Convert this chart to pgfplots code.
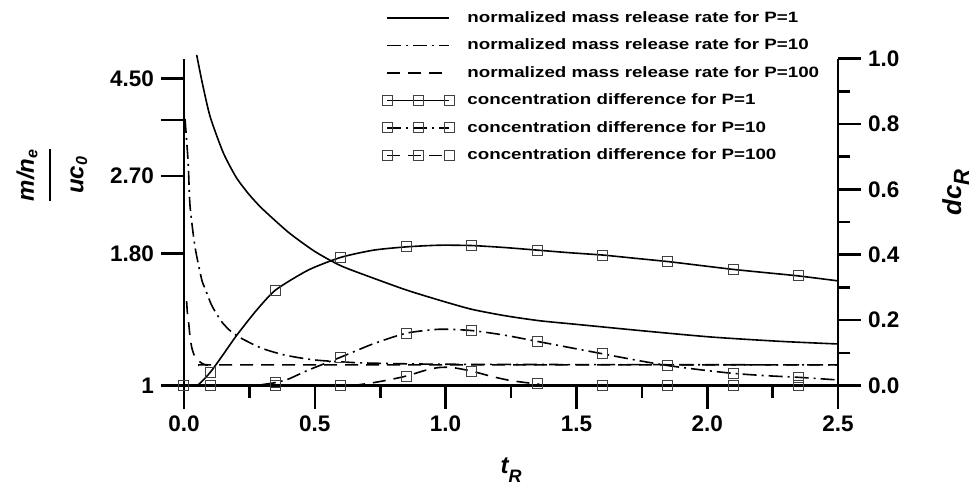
\documentclass[border=0pt]{standalone}
\usepackage{pgfplots}
\pgfplotsset{compat=1.18}
\usepackage{fontspec}
\setmainfont{Liberation Sans}
\newfontfamily\legfont{Liberation Sans Bold}[FakeStretch=1.25]
\setlength{\arrayrulewidth}{0.85pt}
\begin{document}
\begin{tikzpicture}
\useasboundingbox (-92pt,204.2pt) rectangle (395pt,-39.3pt);
\pgfplotsset{
 common/.style={x=130.8pt, y=163.5pt, xmin=0, xmax=2.5, clip=false,
  tick label style={font=\fontsize{11.25}{13}\selectfont\bfseries},
  label style={font=\fontsize{12}{14}\selectfont\bfseries},
  major tick length=11.5pt, minor tick length=6.2pt, tick align=outside,
  every tick/.style={black, line width=1.3pt},
  axis line style={line width=1.4pt},
 },
 lineimg/.style={legend image code/.code={\path[draw=none,fill=none] (-2.5pt,-7pt) rectangle (33.5pt,2.5pt); \draw[##1] (0pt,0pt) -- (31pt,0pt);}},
 markimg/.style={legend image code/.code={\path[draw=none,fill=none] (-2.5pt,-7pt) rectangle (33.5pt,2.5pt); \draw[##1] plot coordinates {(0pt,0pt) (15.5pt,0pt) (31pt,0pt)};}},
 sA/.style={black, line width=0.8pt, solid},
 sB/.style={black, line width=0.8pt, dash pattern=on 7pt off 2.5pt on 1pt off 2.5pt},
 sC/.style={black, line width=0.8pt, dash pattern=on 6.5pt off 4pt},
 mk/.style={mark=square, mark size=2.5pt, mark options={solid, draw=black!75, line width=0.5pt}},
}
% left axis
\begin{axis}[common, ymin=-0.07, ymax=1, axis y line*=left, axis x line=none,
  ytick pos=left, yticklabel pos=left,
  ytick={0,0.404,0.641,0.812,0.939}, yticklabels={1,1.80,2.70,{},4.50},
  ylabel={\itshape\begin{tabular}{@{}c@{}}m/n\textsubscript{e}\\[3.5pt]\hline\rule{0pt}{16.3pt}uc\textsubscript{0}\end{tabular}},
  ylabel style={at={(axis description cs:-0.2003,0.667)}, anchor=center}]
\end{axis}
% right axis
\begin{axis}[common, ymin=-0.07, ymax=1, axis y line*=right, axis x line=none,
  ytick pos=right, yticklabel pos=right,
  ytick={0,0.2,0.4,0.6,0.8,1}, yticklabels={0.0,0.2,0.4,0.6,0.8,1.0},
  minor ytick={0.1,0.3,0.5,0.7,0.9},
  ylabel={\fontsize{13}{15}\selectfont\itshape dc\raisebox{-4pt}{\fontsize{11}{11}\selectfont R}},
  ylabel style={at={(axis description cs:1.180,0.617)}, anchor=center}]
\end{axis}
% data axis
\begin{axis}[common, at={(0pt,11.445pt)}, anchor=south west, ymin=0, ymax=1,
  axis x line*=bottom, axis y line=none, xtick pos=left, xticklabel pos=left,
  xtick={0,0.5,1,1.5,2,2.5}, xticklabels={0.0,0.5,1.0,1.5,2.0,2.5},
  minor xtick={0.25,0.75,1.25,1.75,2.25},
  xlabel={\itshape t\raisebox{-4.5pt}{\fontsize{9}{9}\selectfont R}},
  xlabel style={at={(axis description cs:0.5,-0.2584)}, anchor=center},
  legend style={draw=none, fill=none, at={(axis description cs:0.3028,1.1483)}, anchor=north west,
    inner sep=0pt, row sep=3pt, font=\legfont\fontsize{7.5}{9}\selectfont,
    nodes={inner sep=0pt, text height=6pt, text depth=1.5pt},
    /tikz/every odd column/.append style={column sep=6.5pt}},
  legend cell align=left]
\addlegendimage{sA, lineimg}
\addlegendentry{normalized mass release rate for P=1}
\addlegendimage{sB, lineimg}
\addlegendentry{normalized mass release rate for P=10}
\addlegendimage{sC, lineimg}
\addlegendentry{normalized mass release rate for P=100}
\addlegendimage{sA, mk, markimg}
\addlegendentry{concentration difference for P=1}
\addlegendimage{sB, mk, markimg}
\addlegendentry{concentration difference for P=10}
\addlegendimage{sC, mk, markimg}
\addlegendentry{concentration difference for P=100}

% mass release rate (mapped onto the common vertical scale)
\addplot[sA, smooth, tension=0.4, forget plot] coordinates {
(0.0485,1.011)(0.07,0.925)(0.1,0.822)(0.15,0.712)(0.2,0.636)(0.25,0.583)(0.3,0.54)(0.4,0.468)(0.5,0.41)(0.6,0.366)(0.725,0.328)(0.85,0.292)(0.98,0.26)(1.1,0.233)(1.23,0.213)(1.36,0.198)(1.5,0.187)(1.77,0.166)(2.02,0.148)(2.28,0.135)(2.5,0.127)};
\addplot[sB, smooth, tension=0.4, forget plot] coordinates {
(0.004,0.815)(0.016,0.68)(0.023,0.55)(0.042,0.424)(0.068,0.323)(0.08,0.298)(0.106,0.245)(0.144,0.195)(0.18,0.165)(0.22,0.144)(0.297,0.114)(0.386,0.093)(0.5,0.078)(0.654,0.07)(0.8,0.067)(1.0,0.065)(1.5,0.064)(2.5,0.063)};
\addplot[sC, smooth, tension=0.4, forget plot] coordinates {
(0.01,0.258)(0.013,0.222)(0.018,0.19)(0.023,0.15)(0.03,0.115)(0.042,0.088)(0.068,0.068)(0.093,0.063)(0.2,0.063)(2.5,0.063)};

% concentration difference
\addplot[sA, smooth, tension=0.4, forget plot] coordinates {
(0,0)(0.05,0)(0.1,0.04)(0.15,0.095)(0.2,0.152)(0.275,0.228)(0.35,0.292)(0.475,0.353)(0.6,0.392)(0.725,0.414)(0.85,0.424)(0.975,0.429)(1.1,0.428)(1.225,0.422)(1.35,0.414)(1.475,0.406)(1.6,0.399)(1.725,0.389)(1.85,0.379)(1.975,0.367)(2.1,0.355)(2.225,0.345)(2.35,0.335)(2.5,0.32)};
\addplot[sB, smooth, tension=0.4, forget plot] coordinates {
(0,0)(0.25,0)(0.3,0.003)(0.35,0.009)(0.4,0.02)(0.475,0.047)(0.6,0.087)(0.725,0.128)(0.85,0.16)(0.975,0.172)(1.1,0.168)(1.225,0.154)(1.35,0.135)(1.475,0.116)(1.6,0.097)(1.725,0.078)(1.85,0.061)(1.975,0.048)(2.1,0.037)(2.225,0.03)(2.35,0.025)(2.5,0.017)};
\addplot[sC, smooth, tension=0.4, forget plot] coordinates {
(0,0)(0.6,0)(0.7,0.006)(0.775,0.016)(0.85,0.029)(0.925,0.047)(0.975,0.055)(1.025,0.055)(1.1,0.044)(1.175,0.028)(1.25,0.015)(1.35,0.005)(1.45,0)(2.5,0)};

% markers
\addplot[mk, only marks, forget plot] coordinates {
(0,0)(0.1,0.04)(0.35,0.292)(0.6,0.392)(0.85,0.424)(1.1,0.428)(1.35,0.414)(1.6,0.399)(1.85,0.379)(2.1,0.355)(2.35,0.335)};
\addplot[mk, only marks, forget plot] coordinates {
(0,0)(0.1,0)(0.35,0.008)(0.6,0.087)(0.85,0.16)(1.1,0.168)(1.35,0.135)(1.6,0.097)(1.85,0.061)(2.1,0.037)(2.35,0.025)};
\addplot[mk, only marks, forget plot] coordinates {
(0,0)(0.1,0)(0.35,0)(0.6,0)(0.85,0.029)(1.1,0.044)(1.35,0.005)(1.6,0)(1.85,0)(2.1,0)(2.35,0)};
\end{axis}
\end{tikzpicture}
\end{document}
